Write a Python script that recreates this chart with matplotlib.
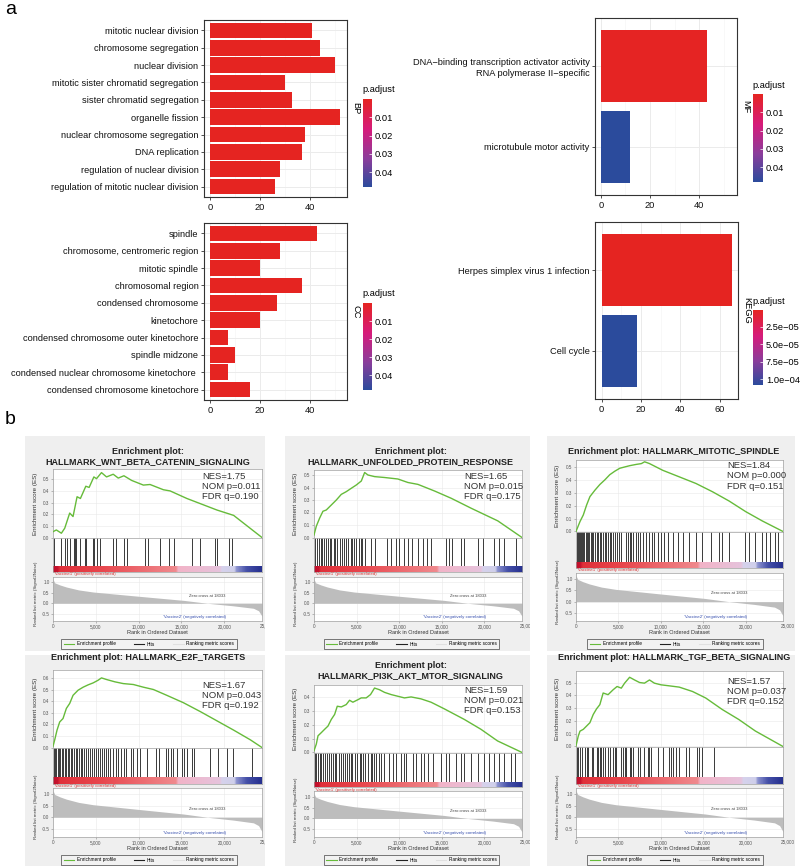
import numpy as np
import matplotlib
matplotlib.use('Agg')
import matplotlib.pyplot as plt
from matplotlib.colors import LinearSegmentedColormap, Normalize
from matplotlib.cm import ScalarMappable
from matplotlib.patches import Rectangle
from matplotlib.lines import Line2D
from matplotlib.transforms import blended_transform_factory

plt.rcParams['font.family'] = ['Liberation Sans', 'DejaVu Sans']

'------DATA------'

# Panel a: over-representation results (Count, p.adjust)
bp_terms = ['mitotic nuclear division', 'chromosome segregation', 'nuclear division',
            'mitotic sister chromatid segregation', 'sister chromatid segregation',
            'organelle fission', 'nuclear chromosome segregation', 'DNA replication',
            'regulation of nuclear division', 'regulation of mitotic nuclear division']
bp_count = [41, 44, 50, 30, 33, 52, 38, 37, 28, 26]
bp_padj = [2e-13, 5e-12, 8e-15, 3e-11, 6e-11, 1e-14, 4e-12, 2e-11, 9e-10, 2e-09]

cc_terms = ['spindle', 'chromosome, centromeric region', 'mitotic spindle', 'chromosomal region',
            'condensed chromosome', 'kinetochore', 'condensed chromosome outer kinetochore',
            'spindle midzone', 'condensed nuclear chromosome kinetochore ',
            'condensed chromosome kinetochore']
cc_count = [43, 28, 20, 37, 27, 20, 7, 10, 7, 16]
cc_padj = [1e-12, 4e-10, 2e-09, 3e-11, 5e-10, 3e-09, 6e-05, 2e-05, 8e-05, 1e-06]

mf_terms = ['DNA\u2212binding transcription activator activity\nRNA polymerase II\u2212specific',
            'microtubule motor activity']
mf_count = [43, 12]
mf_padj = [0.0005, 0.048]

kegg_terms = ['Herpes simplex virus 1 infection', 'Cell cycle']
kegg_count = [66, 18]
kegg_padj = [1.0e-06, 1.08e-04]

# Panel b: GSEA (same ranked list for every gene set)
list_len = 24400
zero_cross = 18033
metric_rank = [0, 200, 800, 1560, 3000, 4690, 9380, 15230, 18033, 21000, 23400, 24000, 24400]
metric_val = [1.15, 0.98, 0.88, 0.78, 0.64, 0.54, 0.36, 0.14, 0.0, -0.12, -0.24, -0.36, -0.62]

gs_names = ['HALLMARK_WNT_BETA_CATENIN_SIGNALING', 'HALLMARK_UNFOLDED_PROTEIN_RESPONSE',
            'HALLMARK_MITOTIC_SPINDLE', 'HALLMARK_E2F_TARGETS',
            'HALLMARK_PI3K_AKT_MTOR_SIGNALING', 'HALLMARK_TGF_BETA_SIGNALING']
gs_nes = ['1.75', '1.65', '1.84', '1.67', '1.59', '1.57']
gs_nom = ['0.011', '0.015', '0.000', '0.043', '0.021', '0.037']
gs_fdr = ['0.190', '0.175', '0.151', '0.192', '0.153', '0.152']

wnt_es_rank = [0, 390, 980, 1370, 1950, 2340, 2810, 3200, 3830, 4220, 4770, 5080, 5660, 6250,
               7030, 7620, 8280, 9180, 10550, 11330, 12890, 13670, 15630, 19140, 21090, 24400]
wnt_es = [0.05, 0.065, 0.037, 0.08, 0.21, 0.18, 0.35, 0.335, 0.44, 0.43, 0.52, 0.505, 0.557, 0.52,
          0.543, 0.51, 0.53, 0.49, 0.45, 0.455, 0.41, 0.40, 0.335, 0.236, 0.19, 0.0]
wnt_hits = [120, 980, 1450, 1680, 1960, 2470, 2580, 2740, 3130, 3720, 3910, 4620, 4770, 5160,
            5470, 7040, 7310, 8290, 8600, 10750, 11060, 12510, 13490, 14070, 16220, 17200,
            18960, 19150, 20520, 20950]

upr_es_rank = [0, 270, 660, 1050, 1440, 2030, 2620, 3200, 3790, 4380, 4960, 5550, 5940, 6330,
               7110, 8280, 9840, 11020, 12190, 14140, 16090, 18440, 21560, 24400]
upr_es = [0.02, 0.09, 0.155, 0.21, 0.22, 0.26, 0.30, 0.345, 0.367, 0.394, 0.42, 0.452, 0.52, 0.50,
          0.487, 0.48, 0.468, 0.44, 0.425, 0.372, 0.314, 0.234, 0.133, 0.0]
upr_hits = [80, 310, 550, 780, 940, 1170, 1440, 1640, 1870, 2030, 2300, 2500, 2730, 3000, 3280,
            3510, 3780, 3980, 4290, 4450, 4680, 4950, 5230, 5460, 5660, 5930, 6710, 7100, 8580,
            9050, 9630, 10020, 10530, 11080, 11470, 12250, 12750, 13260, 13730, 15480, 15870,
            16150, 17240, 17550, 19190, 19770, 21140, 21720, 22230, 23670]

spn_es_rank = [0, 470, 860, 1250, 1640, 2230, 2810, 3400, 3980, 4570, 5160, 5740, 6330, 7110,
               7700, 8090, 8670, 10230, 12190, 14140, 16090, 18050, 20000, 21950, 24400]
spn_es = [0.0, 0.077, 0.128, 0.205, 0.27, 0.32, 0.364, 0.40, 0.44, 0.467, 0.49, 0.50, 0.51, 0.52,
          0.526, 0.54, 0.526, 0.474, 0.423, 0.372, 0.308, 0.236, 0.154, 0.082, 0.0]
spn_hits = [80, 200, 350, 470, 590, 740, 860, 980, 1130, 1250, 1440, 1560, 1720, 1870, 2030,
            2220, 2420, 2610, 2810, 3000, 3200, 3390, 3590, 3780, 3980, 4170, 4370, 4560, 4840,
            5070, 5340, 5930, 6120, 6320, 6510, 6710, 7020, 7290, 7570, 7880, 8270, 8660, 8970,
            9240, 9630, 10020, 10410, 10800, 11470, 11970, 12560, 13340, 14120, 14900, 15870,
            16850, 17240, 18020, 19970, 20360, 21140, 21920, 22390, 22890, 23480, 23790]

e2f_es_rank = [0, 200, 470, 780, 1170, 1560, 1950, 2340, 2930, 3520, 4100, 4690, 5270, 5660,
               6250, 7230, 8200, 9380, 10550, 11720, 13280, 15230, 17190, 19140, 21090, 23050, 24400]
e2f_es = [0.01, 0.066, 0.15, 0.22, 0.25, 0.337, 0.38, 0.45, 0.494, 0.52, 0.54, 0.557, 0.58, 0.60,
          0.586, 0.566, 0.551, 0.543, 0.52, 0.50, 0.45, 0.386, 0.31, 0.23, 0.15, 0.066, 0.0]
e2f_hits = [80, 230, 390, 550, 700, 860, 1010, 1170, 1370, 1560, 1720, 1870, 2070, 2260, 2460,
            2650, 2850, 3040, 3240, 3430, 3630, 3820, 4060, 4290, 4520, 4760, 4990, 5230, 5460,
            5690, 5930, 6160, 6440, 6710, 7020, 7330, 7640, 7960, 8270, 8580, 9050, 9360, 9750,
            10140, 10920, 12010, 12400, 13180, 13460, 13730, 14040, 14510, 15020, 15290, 15600,
            16190, 16460, 18330, 19310, 20280, 21060, 23210]

pik_es_rank = [0, 270, 470, 860, 1250, 1640, 2030, 2420, 2730, 3200, 3780, 4170, 4560, 5150,
               5540, 6120, 6630, 7100, 7680, 8270, 9050, 9830, 10610, 11390, 12560, 13730,
               15290, 17630, 19580, 21530, 24400]
pik_es = [0.012, 0.06, 0.12, 0.143, 0.167, 0.19, 0.238, 0.274, 0.333, 0.328, 0.345, 0.376, 0.362,
          0.38, 0.393, 0.393, 0.417, 0.464, 0.452, 0.433, 0.417, 0.405, 0.393, 0.40, 0.386,
          0.362, 0.314, 0.238, 0.167, 0.083, 0.0]
pik_hits = [80, 270, 470, 660, 860, 1050, 1250, 1480, 1720, 1950, 2220, 2420, 2610, 2890, 3120,
            3390, 3670, 3900, 4060, 4290, 4450, 4760, 5070, 5340, 5540, 5770, 6010, 6320, 6630,
            6790, 7020, 7290, 7570, 7880, 8270, 8740, 9240, 9630, 10220, 10530, 10800, 11580,
            11970, 12560, 12950, 13340, 13920, 14900, 15480, 15870, 16650, 17240, 17630, 18410,
            19190, 19970, 20550, 21140, 21720, 22310, 23090, 23560]

tgf_es_rank = [0, 270, 470, 860, 1250, 1640, 2030, 2420, 2810, 3200, 3780, 4370, 4840, 5340,
               5730, 6320, 6900, 7490, 8070, 8660, 9240, 10020, 11000, 12170, 13730, 15290,
               17240, 19190, 21140, 24400]
tgf_es = [0.005, 0.082, 0.12, 0.134, 0.16, 0.186, 0.25, 0.294, 0.327, 0.418, 0.405, 0.443, 0.469,
          0.456, 0.495, 0.541, 0.52, 0.50, 0.495, 0.52, 0.495, 0.482, 0.474, 0.464, 0.43, 0.379,
          0.289, 0.211, 0.121, 0.0]
tgf_hits = [80, 270, 470, 660, 1050, 1250, 1440, 1830, 2030, 2420, 2610, 2810, 3000, 3200, 3390,
            3780, 3980, 4370, 4560, 4760, 5340, 5540, 5730, 5930, 6320, 6510, 6710, 7290, 7490,
            8070, 8460, 8660, 8850, 9630, 10220, 11000, 11190, 11390, 11780, 12170, 12950,
            13340, 14310, 14510, 14900, 16260]

es_ranks = [wnt_es_rank, upr_es_rank, spn_es_rank, e2f_es_rank, pik_es_rank, tgf_es_rank]
es_vals = [wnt_es, upr_es, spn_es, e2f_es, pik_es, tgf_es]
hit_sets = [wnt_hits, upr_hits, spn_hits, e2f_hits, pik_hits, tgf_hits]


'------LAYOUT (pixels)------'

W, H = 800, 868
fig = plt.figure(figsize=(W / 100, H / 100), dpi=100)


def px_rect(x0, y0, x1, y1):
    return [x0 / W, 1 - y1 / H, (x1 - x0) / W, (y1 - y0) / H]


def ftext(x, y, s, **kw):
    return fig.text(x / W, 1 - y / H, s, **kw)


go_cmap = LinearSegmentedColormap.from_list(
    'padj', [(0.0, '#E52421'), (0.35, '#D51B7B'), (0.68, '#8A3D9B'), (1.0, '#2B4B9C')])

heat_cmap = LinearSegmentedColormap.from_list(
    'heat', [(0.0, '#C0102C'), (0.02, '#C8142E'), (0.03, '#E0303A'), (0.22, '#E8454C'),
             (0.59, '#F08A8E'), (0.60, '#F2B3C7'), (0.80, '#E6C3DC'), (0.81, '#D6D2EC'),
             (0.87, '#CFCFEA'), (0.88, '#8D93CF'), (0.93, '#4550A8'), (1.0, '#26308F')])


def go_bar(rect, terms, counts, padj, norm, xlim, xmaj, xmin, strip, cbar, cb_ticks, cb_labels):
    ax = fig.add_axes(px_rect(*rect))
    n = len(terms)
    ypos = np.arange(n, 0, -1)
    ax.barh(ypos, counts, height=0.9, color=go_cmap(norm(np.array(padj))), zorder=3)
    ax.set_ylim(0.4, n + 0.6)
    ax.set_xlim(*xlim)
    ax.set_yticks(ypos)
    ax.set_yticklabels(terms)
    ax.set_xticks(xmaj)
    ax.set_xticks(xmin, minor=True)
    ax.grid(True, which='major', color='#EBEBEB', lw=0.7, zorder=0)
    ax.grid(True, which='minor', axis='x', color='#F3F3F3', lw=0.4, zorder=0)
    ax.set_axisbelow(True)
    for sp in ax.spines.values():
        sp.set_color('#333333')
        sp.set_linewidth(0.8)
    ax.tick_params(which='major', length=2.5, width=0.6, color='#333333', labelsize=6.7,
                   labelcolor='#111111', pad=1.5)
    ax.tick_params(which='minor', length=0)
    x0, y0, x1, y1 = rect
    ftext(x1 + 4, (y0 + y1) / 2, strip, rotation=-90, fontsize=6.7, va='center', ha='left')
    # colour bar
    cx0, cy0, cx1, cy1 = cbar
    cax = fig.add_axes(px_rect(cx0, cy0, cx1, cy1))
    cb = fig.colorbar(ScalarMappable(norm=norm, cmap=go_cmap), cax=cax)
    cax.invert_yaxis()
    cb.outline.set_visible(False)
    cb.set_ticks(cb_ticks)
    cb.set_ticklabels(cb_labels)
    cax.tick_params(length=2, width=0.5, color='white', direction='in', labelsize=6.7, pad=2)
    ftext(cx0 - 1, cy0 - 9, 'p.adjust', fontsize=6.7, ha='left', va='center')
    return ax


go_norm = Normalize(vmin=min(bp_padj + cc_padj + mf_padj), vmax=max(bp_padj + cc_padj + mf_padj))
go_ticks = [0.01, 0.02, 0.03, 0.04]
go_labels = ['0.01', '0.02', '0.03', '0.04']

go_bar((204, 20, 347, 197), bp_terms, bp_count, bp_padj, go_norm, (-2.6, 55), [0, 20, 40],
       [10, 30, 50], 'BP', (363, 99, 372, 187), go_ticks, go_labels)
go_bar((204, 223, 347, 400), cc_terms, cc_count, cc_padj, go_norm, (-2.6, 55), [0, 20, 40],
       [10, 30, 50], 'CC', (363, 303, 372, 390), go_ticks, go_labels)
go_bar((595, 18, 737, 195), mf_terms, mf_count, mf_padj, go_norm, (-2.4, 55.4), [0, 20, 40],
       [10, 30, 50], 'MF', (753, 94, 763, 182), go_ticks, go_labels)
kegg_norm = Normalize(vmin=min(kegg_padj), vmax=max(kegg_padj))
go_bar((595, 222, 738, 399), kegg_terms, kegg_count, kegg_padj, kegg_norm, (-3.3, 69.3),
       [0, 20, 40, 60], [10, 30, 50], 'KEGG', (753, 310, 763, 385),
       [2.5e-05, 5.0e-05, 7.5e-05, 1.0e-04],
       ['2.5e\u221205', '5.0e\u221205', '7.5e\u221205', '1.0e\u221204'])

ftext(5, 10, 'a', fontsize=14, ha='left', va='center')
ftext(5, 419, 'b', fontsize=14, ha='left', va='center')

# GSEA panel geometry: box, plot x-range, row y-edges, ES top value, title and stats positions
gsea_layout = [
    dict(box=(25, 436, 265, 651), x=(53, 262), es=(469, 538), hit=566, heat=572, rank=(577, 621),
         es_top=0.588, two_line=True, title_y=456.5, stats=(202, 476.7)),
    dict(box=(285, 436, 530, 651), x=(314, 522), es=(470, 538), hit=566, heat=572, rank=(577, 621),
         es_top=0.54, two_line=True, title_y=456.5, stats=(464, 476.7)),
    dict(box=(547, 436, 795, 651), x=(576, 783), es=(460, 532), hit=562, heat=568, rank=(573, 621),
         es_top=0.554, two_line=False, title_y=451, stats=(727, 466)),
    dict(box=(25, 655, 265, 866), x=(53, 262), es=(670, 748), hit=777, heat=784, rank=(788, 837),
         es_top=0.668, two_line=False, title_y=658, stats=(202, 685.7)),
    dict(box=(285, 655, 530, 866), x=(314, 522), es=(685, 753), hit=782, heat=787, rank=(791, 837),
         es_top=0.486, two_line=True, title_y=671, stats=(464, 690.7)),
    dict(box=(547, 655, 795, 866), x=(576, 783), es=(671, 747), hit=777, heat=784, rank=(788, 837),
         es_top=0.59, two_line=False, title_y=658, stats=(727, 681.7)),
]

GREY_TXT = '#555555'
SPINE = '#A0A0A0'


def style_axes(ax):
    for sp in ax.spines.values():
        sp.set_color(SPINE)
        sp.set_linewidth(0.5)
    ax.tick_params(length=1.5, width=0.4, color='#888888', labelsize=3.3, labelcolor=GREY_TXT, pad=1)


def gsea_panel(lay, name, es_rank, es_val, hits, nes, nom, fdr):
    bx0, by0, bx1, by1 = lay['box']
    bg = Rectangle((bx0 / W, 1 - by1 / H), (bx1 - bx0) / W, (by1 - by0) / H,
                   transform=fig.transFigure, facecolor='#EFEFEF', edgecolor='none', zorder=-5)
    fig.patches.append(bg)
    x0, x1 = lay['x']
    es_t, es_b = lay['es']
    rk_t, rk_b = lay['rank']

    sep = '\n' if lay['two_line'] else ' '
    ftext((bx0 + bx1) / 2 + 3, lay['title_y'], 'Enrichment plot:' + sep + name, fontsize=6.5,
          fontweight='bold', ha='center', va='center', linespacing=1.15, color='#222222')

    # running enrichment score
    ax_es = fig.add_axes(px_rect(x0, es_t, x1, es_b))
    ax_es.set_facecolor('white')
    ax_es.plot(es_rank, es_val, color='#66BB3A', lw=1.0, zorder=3)
    ax_es.set_xlim(0, list_len)
    ax_es.set_ylim(-0.004, lay['es_top'])
    yt = np.arange(0, lay['es_top'] - 0.005, 0.1)
    ax_es.set_yticks(yt)
    ax_es.set_yticklabels(['%.1f' % v for v in yt])
    ax_es.set_xticks([0, 5000, 10000, 15000, 20000])
    ax_es.set_xticklabels([])
    ax_es.grid(True, color='#E8E8E8', lw=0.4)
    ax_es.set_axisbelow(True)
    style_axes(ax_es)
    ax_es.tick_params(axis='x', length=0)
    ftext(bx0 + 11, (es_t + es_b) / 2, 'Enrichment score (ES)', rotation=90, fontsize=4.5,
          ha='center', va='center', color='#333333')
    ftext(lay['stats'][0], lay['stats'][1] - 5,
          'NES=%s\nNOM p=%s\nFDR q=%s' % (nes, nom, fdr),
          fontsize=6.8, ha='left', va='top', linespacing=1.18, color='#333333')

    # hits + heat bar
    ax_h = fig.add_axes(px_rect(x0, es_b, x1, lay['heat']))
    hfrac = (lay['heat'] - lay['hit']) / (lay['heat'] - es_b)
    ax_h.vlines(hits, hfrac, 1, color='#1A1A1A', lw=0.6)
    ax_h.imshow(np.linspace(0, 1, 400)[None, :], cmap=heat_cmap, aspect='auto',
                extent=(0, list_len, 0, hfrac), zorder=2)
    ax_h.set_xlim(0, list_len)
    ax_h.set_ylim(0, 1)
    ax_h.set_facecolor('white')
    ax_h.set_xticks([])
    ax_h.set_yticks([])
    style_axes(ax_h)
    ftext(x0 + 1, lay['heat'] + 2.5, "'Vaccine1' (positively correlated)", fontsize=3.2,
          color='#D83A3A', ha='left', va='center')

    # ranked list metric
    ax_r = fig.add_axes(px_rect(x0, rk_t, x1, rk_b))
    ax_r.set_facecolor('white')
    ax_r.fill_between(metric_rank, metric_val, 0, color='#BDBDBD', lw=0, zorder=2)
    ax_r.set_xlim(0, list_len)
    ax_r.set_ylim(-0.85, 1.26)
    ax_r.set_yticks([1.0, 0.5, 0.0, -0.5])
    ax_r.set_yticklabels(['1.0', '0.5', '0.0', '-0.5'])
    ax_r.set_xticks([0, 5000, 10000, 15000, 20000])
    ax_r.set_xticklabels(['0', '5,000', '10,000', '15,000', '20,000'])
    ax_r.grid(True, color='#E8E8E8', lw=0.4)
    ax_r.set_axisbelow(True)
    style_axes(ax_r)
    tr = blended_transform_factory(ax_r.transData, ax_r.transAxes)
    t25 = ax_r.text(25000, -0.045, '25,000', transform=tr, fontsize=3.3, color=GREY_TXT,
                    ha='center', va='top', clip_on=True)
    t25.set_clip_path(bg)
    ax_r.text(zero_cross, 0.36, 'Zero cross at %d' % zero_cross, fontsize=3.0, color='#444444',
              ha='center', va='center')
    ax_r.text(16500, -0.66, "'Vaccine2' (negatively correlated)", fontsize=3.2, color='#3A52B0',
              ha='center', va='center')
    ftext((x0 + x1) / 2, rk_b + 11, 'Rank in Ordered Dataset', fontsize=4.0, color='#333333',
          ha='center', va='center')
    ftext(bx0 + 11, (lay['hit'] + rk_b) / 2, 'Ranked list metric (Signal2Noise)', rotation=90,
          fontsize=3.2, ha='center', va='center', color='#333333')

    handles = [Line2D([], [], color='#66BB3A', lw=0.8), Line2D([], [], color='#222222', lw=0.8),
               Line2D([], [], color='#E0E0E0', lw=0.8)]
    leg = ax_r.legend(handles, ['Enrichment profile', 'Hits', 'Ranking metric scores'],
                      loc='center', bbox_to_anchor=(((bx0 + bx1) / 2 + 4) / W, 1 - (rk_b + 23) / H),
                      bbox_transform=fig.transFigure, ncol=3, fontsize=3.4, frameon=True,
                      fancybox=False, edgecolor='#444444', facecolor='#F2F2F2', framealpha=1,
                      handlelength=2.2, handletextpad=0.6, columnspacing=3.8, borderpad=0.5)
    leg.get_frame().set_linewidth(0.5)


for i in range(6):
    gsea_panel(gsea_layout[i], gs_names[i], es_ranks[i], es_vals[i], hit_sets[i],
               gs_nes[i], gs_nom[i], gs_fdr[i])

fig.savefig('out.png', dpi=100, facecolor='white')
